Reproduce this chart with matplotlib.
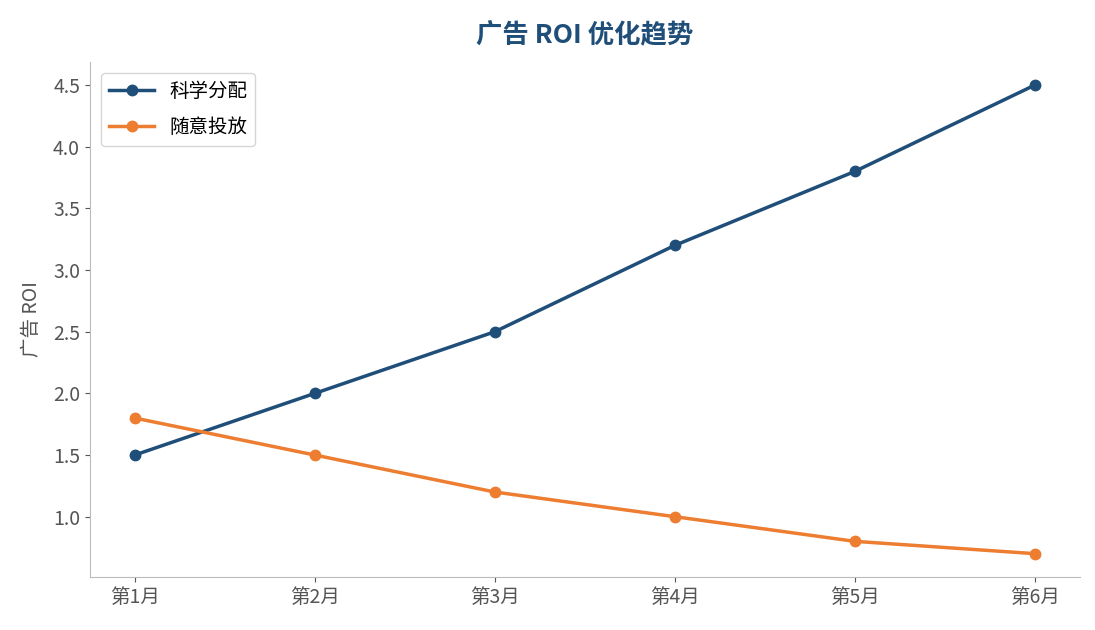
import matplotlib
matplotlib.use('Agg')
import matplotlib.pyplot as plt

plt.rcParams['font.family'] = ['Noto Sans CJK SC', 'DejaVu Sans']

months = ['第1月', '第2月', '第3月', '第4月', '第5月', '第6月']
roi_science = [1.5, 2.0, 2.5, 3.2, 3.8, 4.5]
roi_random = [1.8, 1.5, 1.2, 1.0, 0.8, 0.7]

blue = '#1f4e79'
orange = '#ed7d31'

fig = plt.figure(figsize=(10.95, 6.3), dpi=100)
ax = fig.add_axes([0.082, 0.084, 0.904, 0.818])

x = range(len(months))
ax.plot(x, roi_science, color=blue, lw=2.5, marker='o', ms=7.5, label='科学分配')
ax.plot(x, roi_random, color=orange, lw=2.5, marker='o', ms=7.5, label='随意投放')

ax.set_xticks(list(x))
ax.set_xticklabels(months)
ax.set_ylabel('广告 ROI', fontsize=14, color='#555555', labelpad=8)
ax.set_title('广告 ROI 优化趋势', fontsize=19, fontweight='bold', color=blue, pad=13)

for s in ['top', 'right']:
    ax.spines[s].set_visible(False)
for s in ['left', 'bottom']:
    ax.spines[s].set_color('#bbbbbb')
ax.tick_params(colors='#555555', labelsize=14)
ax.tick_params(axis='both', color='#555555')

ax.legend(loc='upper left', fontsize=14, frameon=True, handlelength=2.3,
          labelspacing=0.75, borderaxespad=0.6)

fig.savefig('out.png', dpi=100)
